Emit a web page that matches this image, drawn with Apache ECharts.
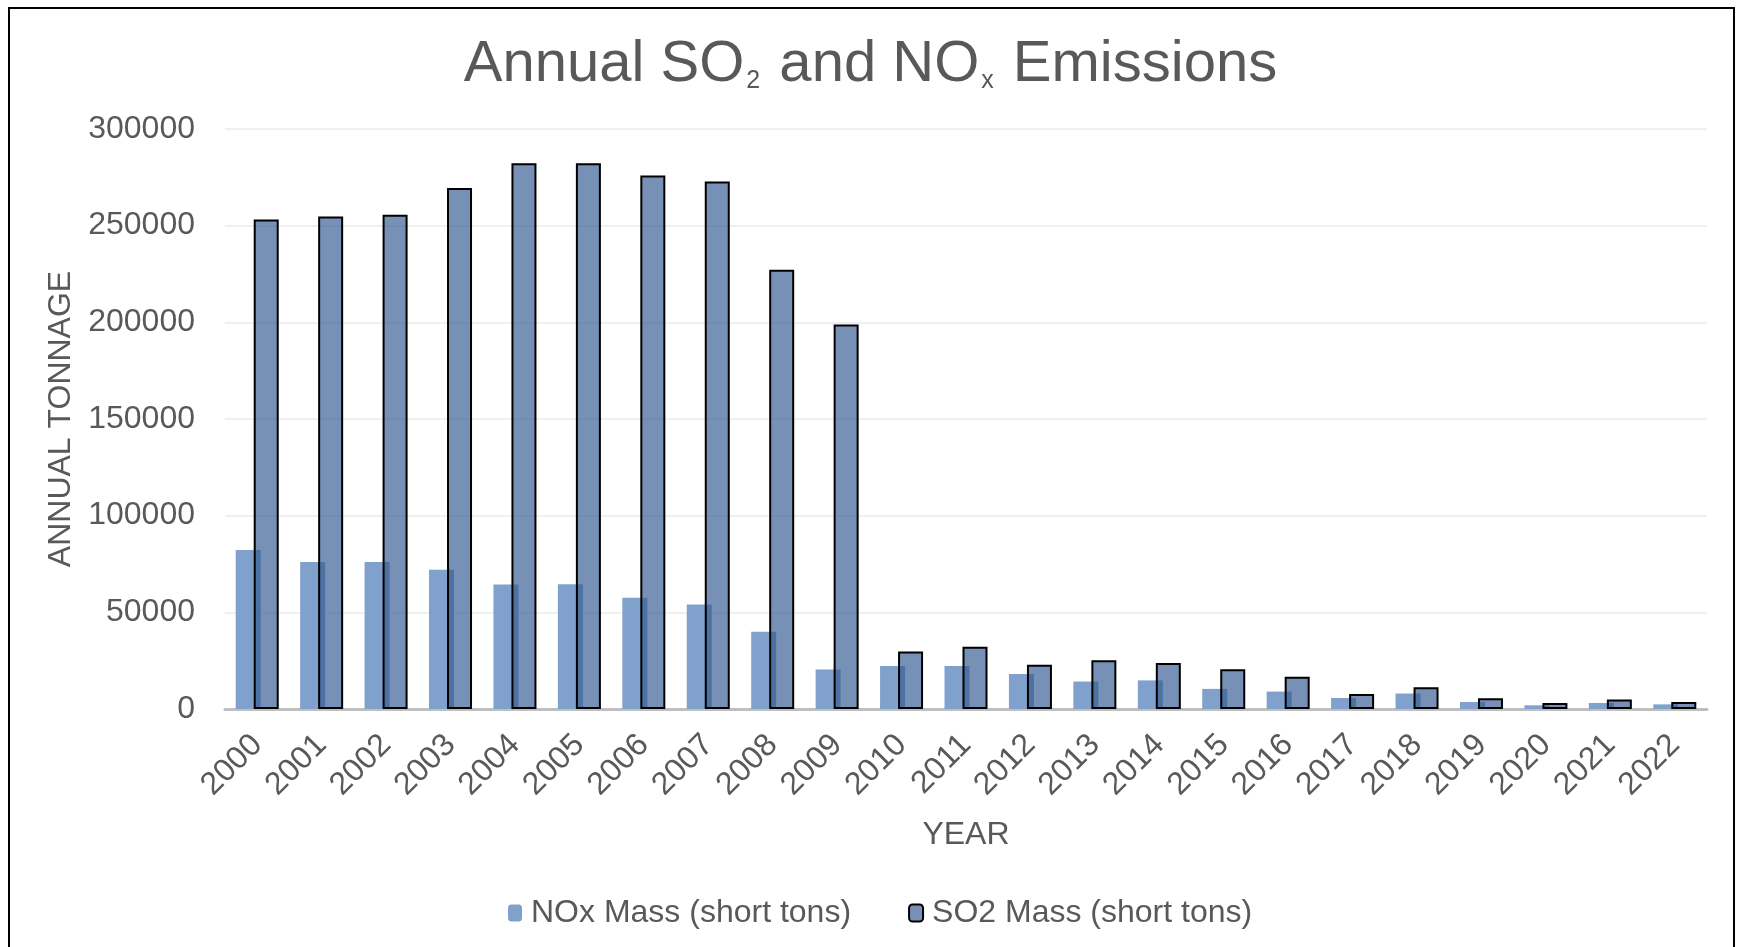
<!DOCTYPE html>
<html>
<head>
<meta charset="utf-8">
<script src="https://cdn.jsdelivr.net/npm/echarts@6/dist/echarts.min.js"></script>
<style>
html,body{margin:0;padding:0;background:#fff;}
#chart{width:1741px;height:947px;}
</style>
</head>
<body>
<div id="chart"></div>
<script>
const years = ['2000','2001','2002','2003','2004','2005','2006','2007','2008','2009','2010','2011','2012','2013','2014','2015','2016','2017','2018','2019','2020','2021','2022'];
const noxMass = [82200,76000,76000,72000,64400,64500,57600,54000,39900,20400,22300,22300,18100,14200,14800,10400,9000,5700,8000,3600,1900,3100,2400];
const so2Mass = [253200,254800,255600,269500,282300,282300,276000,272800,227200,198900,29800,32200,22900,25200,23800,20500,16700,7800,11300,5600,3100,4900,3600];
const yTicks = [0,50000,100000,150000,200000,250000,300000];
const seriesNames = ['NOx Mass (short tons)','SO2 Mass (short tons)'];

const FONT = "'Liberation Sans', Arial, sans-serif";
const GREY = '#595959';
const chart = echarts.init(document.getElementById('chart'), null, {renderer:'canvas'});
chart.setOption({
  animation:false,
  backgroundColor:'#ffffff',
  textStyle:{fontFamily:FONT},
  title:{
    left:'center', top:32, padding:0,
    text:'{a|Annual SO}{s|2}{a| and NO}{s|x}{a| Emissions}',
    textStyle:{
      fontWeight:'normal',
      rich:{
        a:{fontFamily:FONT,fontSize:58,fontWeight:'normal',color:GREY,lineHeight:62,verticalAlign:'bottom'},
        s:{fontFamily:FONT,fontSize:25,fontWeight:'normal',color:GREY,lineHeight:29,verticalAlign:'bottom',padding:[0,3,0,2]}
      }
    }
  },
  graphic:[{
    type:'rect', silent:true,
    shape:{x:9,y:8,width:1725,height:1000},
    style:{fill:'none',stroke:'#000',lineWidth:2}
  }],
  grid:{left:225,right:34,top:129,bottom:238},
  legend:{
    top:892, left:503,
    itemWidth:14, itemHeight:17, itemGap:57,
    textStyle:{fontFamily:FONT,fontSize:32,color:GREY,padding:[0,0,0,4]},
    data:seriesNames
  },
  xAxis:{
    type:'category', data:years,
    name:'YEAR', nameLocation:'middle', nameGap:110,
    nameTextStyle:{fontFamily:FONT,fontSize:32,color:GREY},
    axisLine:{lineStyle:{color:'#bfbfbf',width:3}},
    axisTick:{show:false},
    axisLabel:{rotate:45,interval:0,fontFamily:FONT,fontSize:32,color:GREY,margin:31}
  },
  yAxis:{
    type:'value', min:0, max:300000, interval:50000,
    name:'ANNUAL TONNAGE', nameLocation:'middle', nameGap:148,
    nameTextStyle:{fontFamily:FONT,fontSize:32,color:GREY},
    axisLine:{show:false}, axisTick:{show:false},
    axisLabel:{fontFamily:FONT,fontSize:32,color:GREY,margin:30,
      formatter:function(v){return yTicks.indexOf(v)>=0?String(v):'';}},
    splitLine:{lineStyle:{color:'#f0f0f0',width:2}}
  },
  series:[
    {name:seriesNames[0],type:'bar',data:noxMass,barWidth:25,barGap:'-28%',
     itemStyle:{color:'#7FA1CB'}},
    {name:seriesNames[1],type:'bar',data:so2Mass,barWidth:25,
     itemStyle:{color:'rgba(51,91,145,0.67)',borderColor:'#000',borderWidth:2}}
  ]
});
</script>
</body>
</html>
